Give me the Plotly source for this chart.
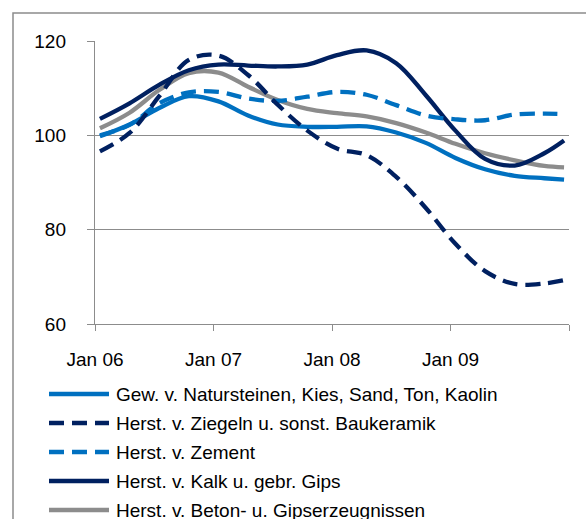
import plotly.graph_objects as go

# ---------------- data ----------------
month_index = [0, 3, 6, 9, 12, 15, 18, 21, 24, 27, 30, 33, 36, 39, 42, 45, 47]
month_labels = ["Jan 06", "Apr 06", "Jul 06", "Okt 06", "Jan 07", "Apr 07", "Jul 07", "Okt 07",
                "Jan 08", "Apr 08", "Jul 08", "Okt 08", "Jan 09", "Apr 09", "Jul 09", "Okt 09", "Dez 09"]

natursteine = [99.8, 102.3, 105.8, 108.3, 107.2, 104.2, 102.3, 101.8, 101.8, 101.9, 100.6, 98.4,
               95.2, 92.8, 91.4, 90.9, 90.6]
ziegel = [96.6, 100.5, 108.3, 116.0, 116.9, 112.8, 106.5, 101.0, 97.2, 95.8, 91.2, 84.6,
          77.0, 71.2, 68.5, 68.6, 69.3]
zement = [100.0, 102.2, 106.8, 109.1, 109.2, 107.8, 107.3, 108.2, 109.2, 108.6, 106.4, 104.2,
          103.4, 103.2, 104.4, 104.6, 104.5]
kalk = [103.5, 106.8, 110.7, 113.8, 115.0, 114.8, 114.6, 115.0, 117.0, 118.0, 115.3, 108.5,
        101.0, 95.0, 93.6, 96.2, 98.9]
beton = [101.5, 104.8, 109.6, 113.2, 113.3, 110.3, 107.5, 105.6, 104.7, 104.0, 102.6, 100.6,
         98.2, 96.2, 94.7, 93.5, 93.2]

series_names = ["Gew. v. Natursteinen, Kies, Sand, Ton, Kaolin",
                "Herst. v. Ziegeln u. sonst. Baukeramik",
                "Herst. v. Zement",
                "Herst. v. Kalk u. gebr. Gips",
                "Herst. v. Beton- u. Gipserzeugnissen"]
series_values = [natursteine, ziegel, zement, kalk, beton]

x_tick_vals = [0, 12, 24, 36, 48]
x_tick_text = ["Jan 06", "Jan 07", "Jan 08", "Jan 09", ""]
y_tick_vals = [60, 80, 100, 120]

# ---------------- styles ----------------
colors = ["#0070C0", "#002060", "#0070C0", "#002060", "#8C8C8C"]
dashes = ["solid", "15px,8px", "15px,8px", "solid", "solid"]
LW = 4.3
FONT = "Liberation Sans, Arial, sans-serif"
FS = 19
GRID = "#8C8C8C"

W, H = 586, 519
L, R, T, B = 95, 17, 41, 195
PW, PH = W - L - R, H - T - B


def px(xp):
    return (xp - L) / PW


def py(yp):
    return (H - B - yp) / PH


fig = go.Figure()
xs = [m + 0.5 for m in month_index]
draw_order = [4, 3, 2, 0, 1]
for i in draw_order:
    fig.add_trace(go.Scatter(
        x=xs, y=series_values[i], name=series_names[i], text=month_labels,
        mode="lines", line=dict(color=colors[i], width=LW, dash=dashes[i], shape="spline", smoothing=1),
        showlegend=False, hovertemplate="%{text}: %{y}<extra></extra>"))

fig.update_xaxes(range=[0, 48], tickmode="array", tickvals=x_tick_vals, ticktext=x_tick_text,
                 showgrid=False, zeroline=False, showline=True, linecolor=GRID, linewidth=1.4,
                 ticks="outside", ticklen=6, tickcolor=GRID, tickwidth=1.4,
                 ticklabelstandoff=12, tickfont=dict(family=FONT, size=FS, color="#000000"))
fig.update_yaxes(range=[60, 120], tickmode="array", tickvals=y_tick_vals,
                 showgrid=True, gridcolor=GRID, gridwidth=1.4, zeroline=False,
                 showline=True, linecolor=GRID, linewidth=1.4,
                 ticks="outside", ticklen=7, tickcolor=GRID, tickwidth=1.4,
                 ticklabelstandoff=17, tickfont=dict(family=FONT, size=FS, color="#000000"))

shapes = [dict(type="rect", xref="paper", yref="paper", x0=px(13), x1=px(640), y0=py(600), y1=py(13),
               line=dict(color="#8C8C8C", width=1.5), fillcolor="rgba(0,0,0,0)", layer="below")]
annotations = []
row_y = [394, 423, 452, 481, 510]
for i, name in enumerate(series_names):
    shapes.append(dict(type="line", xref="paper", yref="paper", x0=px(49), x1=px(109),
                       y0=py(row_y[i]), y1=py(row_y[i]),
                       line=dict(color=colors[i], width=LW, dash=dashes[i])))
    annotations.append(dict(xref="paper", yref="paper", x=px(114), y=py(row_y[i]), text=name,
                            showarrow=False, xanchor="left", yanchor="middle",
                            font=dict(family=FONT, size=FS, color="#000000")))

fig.update_layout(width=W, height=H, margin=dict(l=L, r=R, t=T, b=B, pad=0),
                  paper_bgcolor="white", plot_bgcolor="white", showlegend=False,
                  shapes=shapes, annotations=annotations, font=dict(family=FONT, size=FS))

fig.write_html("out.html", config={"displayModeBar": False},
               post_script="document.body.style.margin='0px';document.body.style.overflow='hidden';")
